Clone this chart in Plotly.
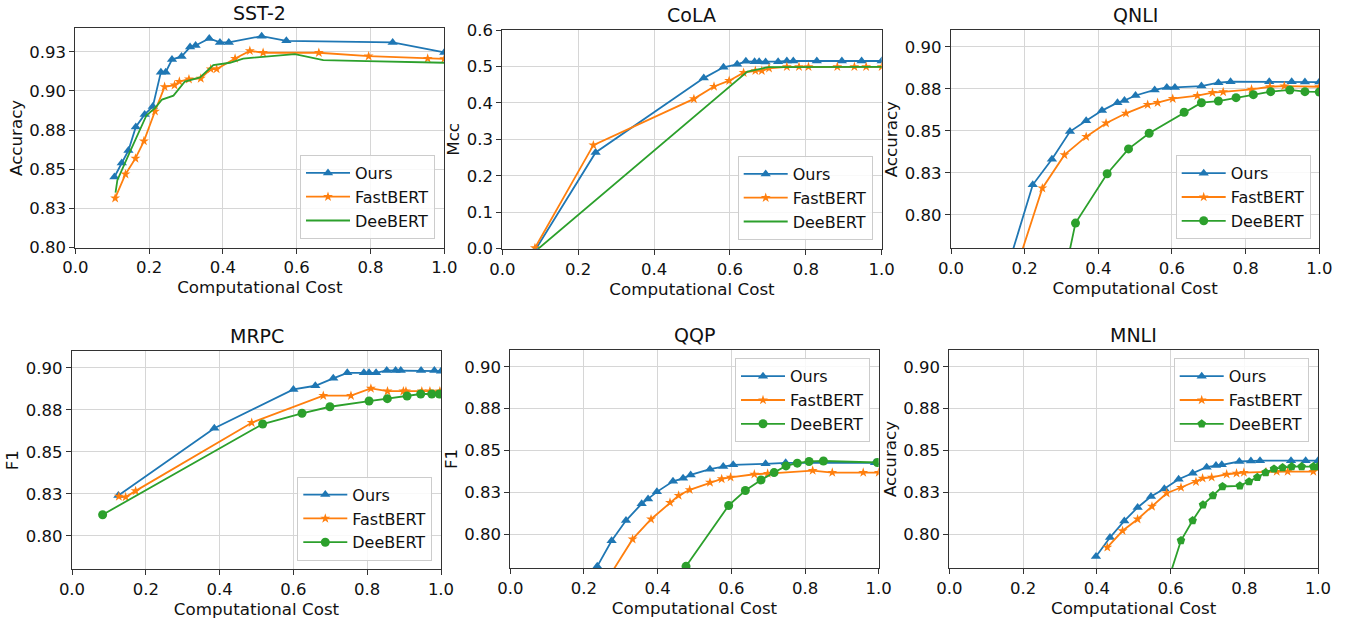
import plotly.graph_objects as go

# ---------------- data ----------------
tick5 = [0.80, 0.825, 0.85, 0.875, 0.90, 0.925]
tick5_text = ["0.80", "0.83", "0.85", "0.88", "0.90", "0.93"]
xticks = [0.0, 0.2, 0.4, 0.6, 0.8, 1.0]
xticks_text = ["0.0", "0.2", "0.4", "0.6", "0.8", "1.0"]
cola_ticks = [0.0, 0.1, 0.2, 0.3, 0.4, 0.5, 0.6]
cola_text = ["0.0", "0.1", "0.2", "0.3", "0.4", "0.5", "0.6"]

# SST-2
sst_ours_x = [0.106, 0.126, 0.144, 0.164, 0.188, 0.210, 0.232, 0.245, 0.262, 0.288, 0.311, 0.326, 0.363, 0.392, 0.416, 0.505, 0.572, 0.860, 1.0]
sst_ours_y = [0.845, 0.854, 0.862, 0.877, 0.885, 0.890, 0.912, 0.912, 0.920, 0.922, 0.928, 0.929, 0.9335, 0.931, 0.931, 0.935, 0.932, 0.931, 0.9246]
sst_fast_x = [0.108, 0.136, 0.163, 0.186, 0.216, 0.242, 0.269, 0.282, 0.308, 0.340, 0.367, 0.383, 0.433, 0.473, 0.509, 0.660, 0.795, 0.955, 1.0]
sst_fast_y = [0.8315, 0.8468, 0.8569, 0.868, 0.887, 0.9026, 0.9037, 0.906, 0.9075, 0.908, 0.914, 0.914, 0.9207, 0.9256, 0.9244, 0.9244, 0.9222, 0.9207, 0.9205]
sst_dee_x = [0.109, 0.114, 0.148, 0.193, 0.216, 0.235, 0.266, 0.297, 0.338, 0.374, 0.419, 0.455, 0.595, 0.672, 0.790, 1.0]
sst_dee_y = [0.835, 0.843, 0.861, 0.8845, 0.889, 0.8945, 0.897, 0.906, 0.9086, 0.9165, 0.918, 0.9207, 0.9235, 0.9197, 0.919, 0.918]

# CoLA
cola_ours_x = [0.089, 0.246, 0.531, 0.583, 0.619, 0.642, 0.665, 0.677, 0.694, 0.727, 0.750, 0.767, 0.829, 0.895, 0.947, 1.0]
cola_ours_y = [0.0, 0.264, 0.468, 0.4976, 0.506, 0.514, 0.513, 0.513, 0.512, 0.513, 0.515, 0.515, 0.515, 0.515, 0.515, 0.515]
cola_fast_x = [0.086, 0.240, 0.505, 0.558, 0.598, 0.636, 0.667, 0.684, 0.703, 0.750, 0.782, 0.807, 0.883, 0.928, 0.959, 1.0]
cola_fast_y = [0.002, 0.284, 0.411, 0.445, 0.461, 0.483, 0.488, 0.488, 0.495, 0.499, 0.499, 0.499, 0.499, 0.499, 0.499, 0.499]
cola_dee_x = [0.095, 0.646, 0.701, 1.0]
cola_dee_y = [0.0, 0.486, 0.498, 0.499]

# QNLI
qnli_ours_x = [0.15, 0.222, 0.274, 0.323, 0.367, 0.410, 0.452, 0.471, 0.501, 0.553, 0.586, 0.608, 0.680, 0.726, 0.759, 0.864, 0.925, 0.961, 1.0]
qnli_ours_y = [0.766, 0.8178, 0.833, 0.8495, 0.856, 0.862, 0.8667, 0.868, 0.871, 0.8743, 0.8758, 0.8758, 0.8766, 0.8786, 0.8792, 0.8792, 0.8792, 0.879, 0.879]
qnli_fast_x = [0.17, 0.248, 0.308, 0.367, 0.421, 0.475, 0.534, 0.561, 0.602, 0.669, 0.710, 0.739, 0.816, 0.866, 0.905, 1.0]
qnli_fast_y = [0.763, 0.8158, 0.8356, 0.8465, 0.8545, 0.8604, 0.8655, 0.8667, 0.8691, 0.8709, 0.8727, 0.8731, 0.8747, 0.8762, 0.8766, 0.8762]
qnli_dee_x = [0.31, 0.338, 0.424, 0.482, 0.538, 0.633, 0.680, 0.726, 0.774, 0.821, 0.868, 0.920, 0.961, 1.0]
qnli_dee_y = [0.766, 0.795, 0.8244, 0.8392, 0.8485, 0.861, 0.8667, 0.8677, 0.8697, 0.8715, 0.8733, 0.8743, 0.8733, 0.8731]

# MRPC
mrpc_ours_x = [0.1256, 0.3857, 0.600, 0.6594, 0.708, 0.746, 0.791, 0.805, 0.824, 0.853, 0.877, 0.891, 0.946, 0.982, 1.0]
mrpc_ours_y = [0.824, 0.864, 0.8871, 0.8893, 0.8937, 0.897, 0.897, 0.897, 0.897, 0.8984, 0.8984, 0.8984, 0.8984, 0.8984, 0.898]
mrpc_fast_x = [0.127, 0.1454, 0.1725, 0.487, 0.681, 0.756, 0.810, 0.855, 0.898, 0.905, 0.948, 0.970, 0.997]
mrpc_fast_y = [0.8234, 0.823, 0.8267, 0.8673, 0.8834, 0.8834, 0.8877, 0.8861, 0.8861, 0.8861, 0.8861, 0.8861, 0.8861]
mrpc_dee_x = [0.083, 0.5167, 0.6233, 0.699, 0.805, 0.8546, 0.908, 0.945, 0.975, 0.9955]
mrpc_dee_y = [0.8125, 0.8665, 0.8729, 0.8768, 0.8802, 0.8816, 0.8832, 0.8844, 0.8844, 0.8844]

# QQP
qqp_ours_x = [0.236, 0.275, 0.314, 0.3566, 0.374, 0.398, 0.4416, 0.469, 0.4896, 0.542, 0.578, 0.605, 0.693, 0.7475, 0.99]
qqp_ours_y = [0.781, 0.7962, 0.8083, 0.8183, 0.8212, 0.8254, 0.8317, 0.8335, 0.8355, 0.8389, 0.8405, 0.8415, 0.8421, 0.8427, 0.8427]
qqp_fast_x = [0.26, 0.332, 0.382, 0.4335, 0.457, 0.487, 0.542, 0.5738, 0.598, 0.6624, 0.6986, 0.8208, 0.874, 0.958, 1.0]
qqp_fast_y = [0.772, 0.7972, 0.8091, 0.819, 0.8232, 0.8266, 0.831, 0.8331, 0.8341, 0.8359, 0.8363, 0.8381, 0.8369, 0.8369, 0.8369]
qqp_dee_x = [0.477, 0.5928, 0.638, 0.6805, 0.716, 0.7484, 0.779, 0.811, 0.850, 0.9964]
qqp_dee_y = [0.781, 0.8173, 0.8262, 0.8325, 0.8369, 0.8409, 0.8425, 0.8435, 0.8438, 0.8429]

# MNLI
mnli_ours_x = [0.3978, 0.4358, 0.4747, 0.5108, 0.547, 0.5832, 0.622, 0.66, 0.698, 0.7233, 0.739, 0.7866, 0.818, 0.8427, 0.9268, 0.9665, 1.0]
mnli_ours_y = [0.7869, 0.7982, 0.8081, 0.8161, 0.8226, 0.8272, 0.8329, 0.8365, 0.8401, 0.8411, 0.8415, 0.8435, 0.8438, 0.844, 0.844, 0.844, 0.844]
mnli_fast_x = [0.4286, 0.470, 0.5108, 0.5497, 0.5895, 0.6284, 0.669, 0.687, 0.7116, 0.7523, 0.779, 0.799, 0.859, 0.888, 0.9177, 0.9873]
mnli_fast_y = [0.7923, 0.8022, 0.8091, 0.8167, 0.8246, 0.828, 0.8315, 0.8335, 0.8341, 0.8359, 0.8365, 0.8369, 0.8373, 0.8375, 0.8375, 0.8375]
mnli_dee_x = [0.59, 0.6284, 0.66, 0.688, 0.715, 0.741, 0.788, 0.813, 0.8354, 0.858, 0.8807, 0.904, 0.9286, 0.9557, 0.9873, 1.0]
mnli_dee_y = [0.770, 0.7964, 0.8083, 0.8177, 0.8232, 0.8286, 0.829, 0.8315, 0.8341, 0.8369, 0.8391, 0.8399, 0.8405, 0.8405, 0.8405, 0.8405]

titles = ["SST-2", "CoLA", "QNLI", "MRPC", "QQP", "MNLI"]
ylabels = ["Accuracy", "Mcc", "Accuracy", "F1", "F1", "Accuracy"]
series_names = ["Ours", "FastBERT", "DeeBERT"]

# ---------------- styling / layout ----------------
W, H = 1346, 621
BLUE, ORANGE, GREEN = "#1f77b4", "#ff7f0e", "#2ca02c"
FONT = "DejaVu Sans"

# plot areas in pixels: (left, right, top, bottom)
boxes = [
    (75.3, 444.3, 28.3, 247.5),
    (502.3, 881.7, 30.0, 248.7),
    (951.0, 1319.3, 30.0, 248.3),
    (72.0, 441.0, 351.0, 569.3),
    (510.3, 878.7, 350.0, 568.0),
    (949.3, 1318.0, 350.0, 568.0),
]
yranges = [[0.80, 0.940], [0.0, 0.6], [0.78, 0.91], [0.78, 0.91], [0.78, 0.91], [0.78, 0.91]]
legend_pos = [  # (x_px right edge, y_px, anchor)
    (435, 239, "bottom"), (872.7, 240, "bottom"), (1310.7, 239.3, "bottom"),
    (432.3, 560.7, "bottom"), (870, 358.3, "top"), (1308.7, 358.3, "top"),
]

data = [
    (sst_ours_x, sst_ours_y, sst_fast_x, sst_fast_y, sst_dee_x, sst_dee_y, None),
    (cola_ours_x, cola_ours_y, cola_fast_x, cola_fast_y, cola_dee_x, cola_dee_y, None),
    (qnli_ours_x, qnli_ours_y, qnli_fast_x, qnli_fast_y, qnli_dee_x, qnli_dee_y, "circle"),
    (mrpc_ours_x, mrpc_ours_y, mrpc_fast_x, mrpc_fast_y, mrpc_dee_x, mrpc_dee_y, "circle"),
    (qqp_ours_x, qqp_ours_y, qqp_fast_x, qqp_fast_y, qqp_dee_x, qqp_dee_y, "circle"),
    (mnli_ours_x, mnli_ours_y, mnli_fast_x, mnli_fast_y, mnli_dee_x, mnli_dee_y, "pentagon"),
]

fig = go.Figure()
layout = dict(
    width=W, height=H, margin=dict(l=0, r=0, t=0, b=0, autoexpand=False),
    paper_bgcolor="white", plot_bgcolor="white",
    font=dict(family=FONT, size=16, color="#111"),
    showlegend=True, annotations=[],
)

for i in range(6):
    k = "" if i == 0 else str(i + 1)
    xa, ya = "x" + k, "y" + k
    lg = "legend" + k
    ox, oy, fx, fy, dx, dy, dsym = data[i]
    fig.add_trace(go.Scatter(x=ox, y=oy, name=series_names[0], mode="lines+markers",
                             line=dict(color=BLUE, width=1.8),
                             marker=dict(symbol="triangle-up", size=9, color=BLUE),
                             xaxis=xa, yaxis=ya, legend=lg))
    fig.add_trace(go.Scatter(x=fx, y=fy, name=series_names[1], mode="lines+markers",
                             line=dict(color=ORANGE, width=1.8),
                             marker=dict(symbol="star", size=7.5, color=ORANGE),
                             xaxis=xa, yaxis=ya, legend=lg))
    if dsym is None:
        fig.add_trace(go.Scatter(x=dx, y=dy, name=series_names[2], mode="lines",
                                 line=dict(color=GREEN, width=1.8),
                                 xaxis=xa, yaxis=ya, legend=lg))
    else:
        fig.add_trace(go.Scatter(x=dx, y=dy, name=series_names[2], mode="lines+markers",
                                 line=dict(color=GREEN, width=1.8),
                                 marker=dict(symbol=dsym, size=9, color=GREEN),
                                 xaxis=xa, yaxis=ya, legend=lg))

    L, R, T, B = boxes[i]
    axis_common = dict(showgrid=True, gridcolor="#d6d6d6", gridwidth=1, automargin=False,
                       showline=True, linecolor="#333", linewidth=1.2, mirror=True,
                       ticks="outside", ticklen=5, tickcolor="#333", tickwidth=1,
                       zeroline=False, tickfont=dict(size=16.5, family=FONT, color="#111"))
    layout["xaxis" + k] = dict(axis_common, domain=[L / W, R / W], range=[0, 1],
                               anchor=ya, tickvals=xticks, ticktext=xticks_text,
                               title=dict(text="Computational Cost", font=dict(size=16.7), standoff=0))
    if i == 1:
        yt, ytt = cola_ticks, cola_text
    else:
        yt, ytt = tick5, tick5_text
    layout["yaxis" + k] = dict(axis_common, domain=[1 - B / H, 1 - T / H], range=yranges[i],
                               anchor=xa, tickvals=yt, ticktext=ytt,
                               title=dict(text=ylabels[i], font=dict(size=16.7), standoff=2))
    lx, ly, anc = legend_pos[i]
    layout[lg] = dict(x=lx / W, y=1 - ly / H, xanchor="right", yanchor=anc,
                      bgcolor="rgba(255,255,255,0.85)", bordercolor="#cccccc", borderwidth=1,
                      font=dict(size=16, family=FONT, color="#111"), tracegroupgap=0,
                      itemwidth=44)
    layout["annotations"].append(dict(text=titles[i], x=(L + R) / 2 / W, y=1 - (T - 2) / H,
                                      xref="paper", yref="paper", xanchor="center", yanchor="bottom",
                                      showarrow=False, font=dict(size=19, family=FONT, color="#111")))

fig.update_layout(**layout)
fig.write_html("out.html", config={"displayModeBar": False},
               post_script="document.body.style.margin='0';document.body.style.overflow='hidden';")
